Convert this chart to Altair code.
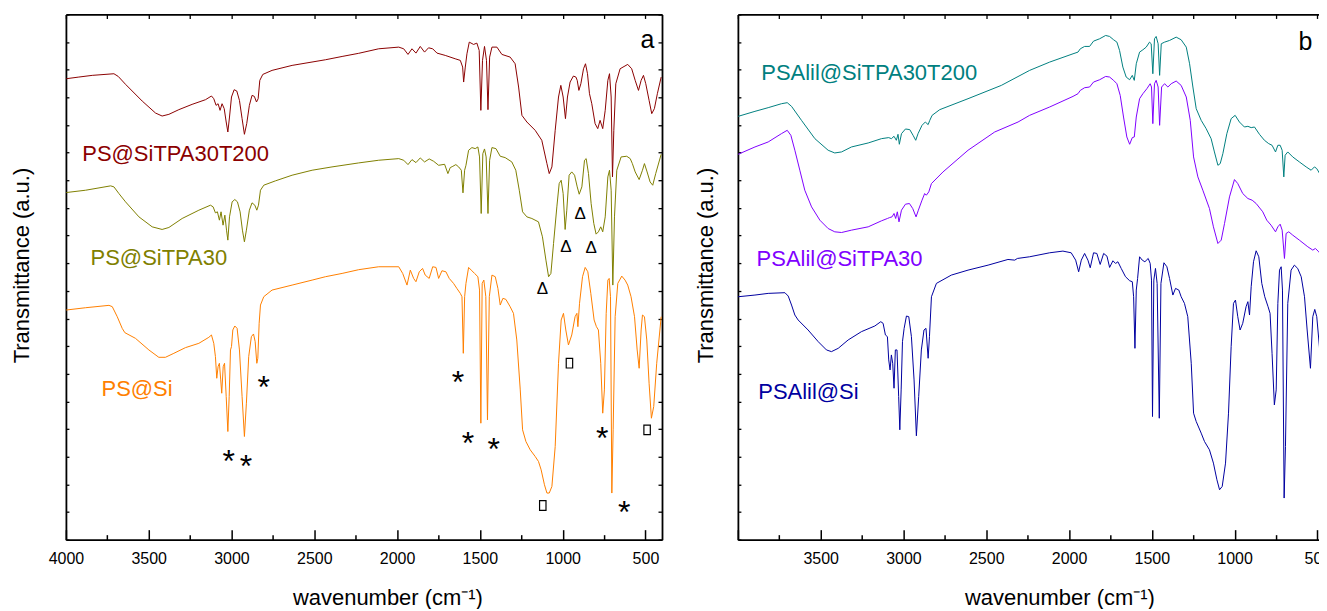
import altair as alt
import pandas as pd

FONT = "Liberation Sans"

# ---------------- data: panel a ----------------
wn_red = [3998, 3922, 3841, 3710, 3684, 3640, 3539, 3459, 3419, 3378, 3318, 3238, 3157, 3121, 3107, 3093, 3081, 3069,
          3057, 3044, 3032, 3022, 3012, 3000, 2984, 2968, 2952, 2936, 2922, 2908, 2892, 2876, 2862, 2849, 2839, 2829,
          2811, 2755, 2634, 2433, 2332, 2232, 2111, 1990, 1960, 1934, 1910, 1886, 1860, 1834, 1810, 1785, 1759, 1709,
          1649, 1618, 1604, 1598, 1588, 1578, 1564, 1538, 1518, 1504, 1494, 1484, 1472, 1460, 1451, 1441, 1427, 1397,
          1367, 1317, 1287, 1266, 1246, 1216, 1166, 1126, 1095, 1081, 1065, 1045, 1025, 1011, 997, 983, 971, 955, 935,
          920, 912, 902, 890, 874, 862, 850, 838, 824, 804, 788, 774, 758, 743, 727, 717, 707, 699, 691, 679, 653, 607,
          583, 562, 542, 526, 512, 498, 478, 462, 446, 428, 405]
tr_red = [87.76, 88.08, 88.40, 88.71, 88.20, 86.70, 83.50, 81.23, 80.66, 80.98, 81.87, 82.88, 83.77, 84.47, 83.96, 82.69,
          83.00, 81.74, 83.00, 82.06, 79.52, 77.62, 80.47, 84.28, 85.67, 85.42, 83.64, 80.16, 77.18, 79.21, 82.69, 84.59,
          84.40, 83.33, 83.96, 87.45, 88.58, 89.35, 90.30, 91.37, 92.00, 92.60, 93.46, 93.78, 93.46, 92.39, 93.46, 92.64,
          93.91, 92.83, 93.65, 93.46, 92.64, 92.20, 91.56, 91.25, 89.98, 87.13, 89.98, 92.51, 94.73, 94.29, 94.54, 93.15,
          81.74, 91.25, 93.91, 91.25, 81.87, 91.88, 93.78, 93.78, 92.39, 91.88, 90.61, 86.18, 80.79, 79.52, 77.94, 76.04,
          71.60, 69.70, 70.97, 77.94, 84.28, 86.50, 84.28, 80.16, 84.28, 87.13, 88.27, 88.08, 87.45, 85.54, 86.81, 89.66,
          90.61, 88.72, 84.91, 83.00, 79.21, 78.26, 79.84, 78.26, 81.74, 87.45, 88.72, 84.28, 69.07, 77.94, 86.81, 89.66,
          90.49, 89.66, 87.45, 85.54, 87.45, 88.40, 86.81, 83.64, 81.11, 82.06, 84.91, 88.08]

wn_olive = [3998, 3881, 3730, 3710, 3680, 3640, 3559, 3479, 3419, 3378, 3298, 3197, 3127, 3111, 3097, 3085, 3073, 3063,
            3051, 3040, 3030, 3022, 3012, 2996, 2980, 2964, 2948, 2934, 2922, 2910, 2892, 2876, 2859, 2847, 2837, 2825,
            2805, 2735, 2634, 2513, 2393, 2232, 2111, 1990, 1960, 1934, 1910, 1886, 1860, 1834, 1806, 1779, 1749, 1713,
            1693, 1679, 1663, 1645, 1628, 1612, 1602, 1592, 1584, 1568, 1548, 1528, 1512, 1502, 1492, 1482, 1472, 1462,
            1451, 1441, 1427, 1403, 1377, 1347, 1307, 1283, 1262, 1242, 1216, 1186, 1146, 1122, 1101, 1085, 1071, 1055,
            1035, 1021, 1009, 997, 985, 975, 961, 945, 928, 912, 900, 884, 868, 858, 844, 828, 812, 798, 784, 770, 758,
            743, 727, 717, 707, 697, 687, 673, 647, 613, 592, 579, 562, 538, 518, 506, 490, 472, 456, 438, 405]
tr_olive = [66.09, 66.53, 67.36, 67.17, 65.90, 64.32, 61.46, 59.56, 59.06, 59.44, 61.15, 62.73, 63.68, 63.37, 62.22,
            62.42, 60.83, 62.42, 59.88, 61.78, 58.93, 57.03, 61.46, 64.32, 64.76, 64.32, 62.42, 58.93, 56.71, 58.93,
            62.73, 64.13, 63.68, 62.73, 63.68, 66.53, 67.49, 68.31, 69.39, 70.34, 70.97, 71.73, 72.24, 72.55, 72.24,
            71.41, 72.36, 71.79, 72.68, 71.92, 72.49, 72.04, 71.28, 71.47, 69.70, 70.84, 71.09, 71.41, 70.97, 70.34,
            66.03, 70.34, 71.28, 74.14, 74.65, 74.45, 74.77, 72.87, 62.10, 73.50, 74.39, 72.87, 62.10, 72.24, 74.65,
            74.45, 73.00, 72.74, 71.92, 70.34, 66.53, 62.42, 61.46, 61.15, 60.51, 57.66, 53.22, 50.06, 50.69, 56.39,
            63.36, 67.80, 68.43, 65.90, 59.06, 62.73, 69.39, 70.02, 69.39, 67.17, 65.77, 67.17, 72.24, 72.55, 69.70,
            64.00, 60.20, 58.17, 58.61, 59.56, 58.61, 61.46, 69.07, 70.34, 66.53, 48.47, 61.46, 70.34, 72.87, 73.00,
            72.55, 71.60, 70.02, 68.56, 70.34, 71.60, 70.02, 68.11, 67.48, 69.70, 73.38]

wn_orange = [3998, 3881, 3740, 3720, 3690, 3660, 3644, 3580, 3499, 3439, 3399, 3348, 3278, 3197, 3137, 3121, 3107, 3097,
             3089, 3081, 3073, 3065, 3059, 3050, 3042, 3032, 3022, 3014, 3006, 3000, 2992, 2980, 2966, 2952, 2936, 2922,
             2910, 2896, 2880, 2867, 2857, 2847, 2841, 2833, 2825, 2805, 2755, 2634, 2513, 2433, 2332, 2232, 2111, 1990,
             1966, 1940, 1920, 1900, 1886, 1866, 1846, 1830, 1806, 1785, 1765, 1749, 1729, 1705, 1685, 1659, 1639, 1618,
             1608, 1600, 1592, 1584, 1568, 1552, 1532, 1512, 1502, 1494, 1486, 1476, 1464, 1454, 1443, 1427, 1407, 1391,
             1377, 1361, 1343, 1317, 1297, 1277, 1256, 1242, 1222, 1196, 1166, 1146, 1130, 1110, 1095, 1081, 1065, 1045,
             1025, 1009, 995, 981, 965, 945, 925, 914, 908, 898, 880, 864, 848, 830, 810, 796, 784, 770, 758, 748, 737,
             727, 719, 711, 703, 695, 683, 667, 643, 623, 607, 587, 566, 550, 538, 526, 518, 506, 492, 478, 464, 450,
             432, 405]
tr_orange = [43.72, 44.16, 44.61, 44.36, 42.45, 40.23, 39.41, 38.33, 36.12, 34.72, 34.72, 35.48, 36.56, 37.38, 38.52,
             38.97, 37.38, 34.85, 30.73, 32.94, 33.58, 30.41, 27.88, 32.94, 33.58, 27.25, 20.59, 27.25, 36.12, 36.75,
             39.92, 40.68, 40.23, 36.12, 27.25, 19.64, 25.98, 34.85, 38.65, 39.16, 37.70, 33.58, 34.53, 41.19, 44.67,
             46.26, 47.52, 48.47, 49.42, 50.06, 50.69, 51.40, 51.96, 51.96, 50.69, 48.47, 51.32, 49.74, 49.11, 51.00,
             51.64, 50.37, 49.74, 51.96, 51.83, 49.74, 51.20, 51.00, 49.74, 48.79, 47.84, 46.89, 46.26, 35.48, 46.26,
             48.79, 51.83, 51.32, 50.69, 50.06, 47.52, 22.17, 48.79, 49.42, 46.26, 22.81, 46.26, 50.37, 50.06, 47.84,
             44.67, 45.94, 45.75, 44.35, 43.09, 38.02, 28.51, 20.91, 18.69, 17.11, 15.84, 14.89, 13.30, 10.45, 8.87,
             8.87, 10.13, 17.74, 33.58, 41.82, 43.09, 39.92, 37.07, 38.97, 42.45, 43.09, 40.55, 45.00, 50.06, 51.83,
             51.01, 46.89, 41.82, 40.55, 39.92, 33.58, 24.08, 28.51, 43.09, 49.42, 49.74, 46.26, 8.87, 20.91, 42.45,
             48.79, 50.18, 49.42, 48.47, 46.26, 42.45, 36.12, 32.63, 39.92, 42.77, 42.45, 38.02, 29.78, 23.12, 25.34,
             33.58, 42.45]

# ---------------- data: panel b ----------------
wn_teal = [3998, 3897, 3817, 3737, 3702, 3676, 3616, 3535, 3455, 3415, 3374, 3314, 3213, 3133, 3089, 3073, 3057, 3043,
           3033, 3025, 3012, 2988, 2962, 2942, 2926, 2912, 2888, 2868, 2851, 2841, 2827, 2781, 2610, 2409, 2238, 2117,
           1976, 1946, 1932, 1906, 1876, 1852, 1815, 1779, 1755, 1731, 1711, 1695, 1675, 1655, 1634, 1618, 1606, 1594,
           1574, 1554, 1534, 1514, 1504, 1494, 1484, 1474, 1462, 1453, 1443, 1423, 1393, 1353, 1323, 1292, 1272, 1252,
           1232, 1202, 1172, 1142, 1122, 1101, 1087, 1071, 1047, 1021, 997, 971, 941, 920, 900, 880, 850, 820, 794,
           774, 753, 739, 725, 713, 703, 695, 679, 649, 609, 568, 538, 518, 504, 484, 464, 446]
tr_teal = [80.60, 81.55, 82.25, 83.00, 83.20, 82.50, 79.84, 76.35, 74.14, 73.63, 73.82, 74.77, 75.53, 76.35, 76.55, 76.35,
           76.80, 76.04, 77.18, 75.28, 77.30, 78.19, 78.07, 76.99, 76.04, 77.30, 78.89, 79.52, 79.02, 79.84, 80.79, 81.87,
           83.96, 86.49, 89.35, 90.93, 92.51, 92.83, 93.46, 93.91, 93.91, 94.92, 95.37, 96.00, 95.81, 95.18, 94.73, 93.15,
           89.98, 88.08, 87.57, 88.40, 87.45, 90.61, 92.83, 93.27, 93.78, 94.73, 94.42, 88.71, 95.37, 95.81, 94.42, 88.40,
           94.42, 94.73, 95.05, 95.68, 95.18, 93.78, 90.61, 86.18, 82.06, 79.84, 78.26, 76.35, 73.82, 71.28, 71.60, 73.50,
           77.30, 80.16, 80.79, 79.52, 78.57, 78.70, 78.45, 78.57, 77.18, 76.04, 75.40, 75.09, 73.82, 75.09, 75.09, 74.14,
           69.07, 73.19, 73.82, 72.87, 71.92, 70.97, 70.34, 70.97, 70.65, 69.57, 68.75, 69.07]

wn_purple = [3998, 3897, 3817, 3737, 3702, 3680, 3656, 3626, 3596, 3555, 3505, 3455, 3415, 3374, 3314, 3213, 3133, 3097,
             3083, 3069, 3057, 3047, 3037, 3027, 3012, 2988, 2964, 2944, 2924, 2910, 2888, 2872, 2862, 2847, 2831, 2761,
             2610, 2449, 2308, 2238, 2117, 1976, 1946, 1932, 1906, 1876, 1852, 1815, 1779, 1755, 1731, 1711, 1691, 1671,
             1651, 1634, 1618, 1606, 1594, 1574, 1554, 1530, 1510, 1502, 1494, 1484, 1474, 1462, 1453, 1441, 1423, 1403,
             1383, 1353, 1323, 1292, 1268, 1248, 1222, 1192, 1152, 1128, 1101, 1081, 1061, 1031, 1001, 981, 951, 920,
             894, 870, 830, 806, 780, 753, 739, 725, 713, 699, 689, 673, 649, 609, 558, 528, 512, 492, 468, 446]
tr_purple = [73.38, 74.77, 75.72, 77.30, 77.94, 76.99, 74.14, 70.34, 66.53, 63.36, 60.83, 59.24, 58.61, 58.48, 58.93,
             59.56, 60.70, 61.15, 61.33, 61.46, 62.10, 61.15, 62.42, 60.51, 62.73, 63.87, 64.00, 63.04, 61.46, 62.73,
             64.63, 65.90, 65.58, 66.22, 67.80, 70.02, 74.14, 77.62, 79.52, 80.79, 82.38, 84.40, 84.91, 85.54, 86.05,
             86.18, 87.13, 87.57, 88.20, 88.08, 87.45, 86.81, 84.59, 80.47, 76.67, 75.28, 76.55, 76.67, 80.47, 83.96,
             84.91, 85.86, 86.81, 86.18, 79.21, 86.81, 87.45, 86.18, 78.89, 86.18, 86.81, 86.18, 86.81, 87.32, 86.49,
             84.28, 79.84, 72.87, 69.07, 66.53, 63.04, 59.56, 56.39, 57.03, 60.20, 65.26, 68.56, 67.80, 65.90, 64.95,
             64.63, 64.00, 62.42, 60.83, 59.88, 58.61, 59.56, 60.07, 58.93, 53.54, 58.30, 58.61, 57.98, 57.03, 55.76,
             55.13, 55.44, 54.81, 53.86, 54.17]

wn_navy = [3998, 3897, 3817, 3716, 3696, 3676, 3656, 3636, 3576, 3515, 3465, 3435, 3394, 3334, 3254, 3173, 3137, 3123,
           3109, 3097, 3089, 3081, 3073, 3065, 3057, 3049, 3039, 3029, 3022, 3014, 3006, 2996, 2982, 2968, 2952, 2936,
           2922, 2908, 2892, 2876, 2864, 2851, 2843, 2831, 2801, 2711, 2610, 2489, 2369, 2328, 2312, 2238, 2117, 2037,
           1987, 1960, 1942, 1926, 1906, 1886, 1872, 1852, 1832, 1812, 1791, 1771, 1755, 1735, 1719, 1705, 1685, 1659,
           1634, 1618, 1610, 1602, 1594, 1586, 1574, 1558, 1542, 1522, 1510, 1502, 1496, 1488, 1478, 1468, 1455, 1445,
           1427, 1409, 1393, 1373, 1357, 1337, 1323, 1303, 1283, 1262, 1248, 1232, 1202, 1182, 1152, 1128, 1107, 1091,
           1075, 1055, 1037, 1021, 1007, 995, 981, 967, 951, 931, 920, 910, 900, 886, 870, 854, 836, 818, 798, 786, 774,
           760, 749, 739, 729, 719, 711, 701, 693, 679, 659, 639, 619, 598, 578, 562, 542, 528, 516, 504, 488, 472, 458,
           446]
tr_navy = [46.25, 46.57, 46.89, 47.02, 46.38, 44.67, 42.77, 41.82, 39.92, 37.70, 36.12, 35.80, 36.43, 38.02, 39.60, 40.68,
           41.50, 41.19, 38.97, 38.65, 34.22, 32.31, 35.17, 33.58, 28.83, 36.12, 36.12, 27.25, 20.91, 28.51, 37.70, 40.23,
           42.58, 42.45, 38.65, 30.41, 19.77, 27.25, 36.12, 39.92, 40.23, 34.53, 38.65, 46.25, 48.79, 50.37, 51.32, 52.27,
           53.35, 53.22, 53.54, 53.86, 54.62, 54.94, 54.62, 53.22, 51.00, 53.22, 54.49, 53.22, 51.77, 54.62, 54.49, 52.40,
           54.49, 53.98, 51.83, 53.10, 52.59, 52.91, 51.64, 50.06, 49.30, 49.11, 46.25, 36.43, 47.52, 49.74, 53.86, 53.22,
           52.91, 53.54, 52.59, 49.42, 23.44, 49.42, 51.64, 48.79, 23.12, 48.79, 52.72, 51.96, 49.74, 46.57, 47.84, 47.52,
           46.25, 44.99, 42.45, 33.58, 24.08, 22.49, 20.28, 18.69, 17.10, 14.57, 11.40, 9.50, 10.13, 14.57, 24.08, 36.75,
           44.99, 45.62, 42.45, 39.92, 41.19, 44.35, 45.31, 42.77, 48.16, 52.91, 55.00, 53.86, 48.79, 46.25, 44.35, 43.09,
           35.48, 25.66, 28.51, 44.99, 51.32, 51.96, 47.52, 7.92, 17.74, 44.99, 51.32, 52.27, 51.64, 50.06, 46.25, 39.92,
           32.63, 42.45, 43.84, 42.45, 36.75, 28.51, 25.98, 27.86]

series_names = ["PS@SiTPA30T200", "PS@SiTPA30", "PS@Si", "PSAlil@SiTPA30T200", "PSAlil@SiTPA30", "PSAlil@Si"]
series_colors = ["#8B0000", "#808000", "#FF8000", "#008080", "#8000FF", "#0000A0"]

# curve labels
labels_a = ["PS@SiTPA30T200", "PS@SiTPA30", "PS@Si"]
labels_a_wn = [3901, 3851, 3785]
labels_a_tr = [72.05, 52.28, 27.37]
labels_b = ["PSAlil@SiTPA30T200", "PSAlil@SiTPA30", "PSAlil@Si"]
labels_b_wn = [3859, 3887, 3877]
labels_b_tr = [87.45, 52.09, 26.75]

# band markers (panel a)
tri_wn = [894, 981, 828, 1122]
tri_tr = [62.2, 55.9, 55.8, 48.0]
star_wn = [2805, 3016, 2912, 1632, 1572, 1417, 761, 628]
star_tr = [30.4, 16.3, 15.3, 31.4, 19.8, 18.5, 20.6, 6.5]
sq_wn = [959, 1120, 490]
sq_tr = [33.6, 6.5, 20.9]

panel_letters = ["a", "b"]
letter_wn = [446, 530]
letter_tr = [93.7, 93.3]

xlabels_a = [4000, 3500, 3000, 2500, 2000, 1500, 1000, 500]
xlabels_b = [3500, 3000, 2500, 2000, 1500, 1000, 500]
xticks = [4000, 3750, 3500, 3250, 3000, 2750, 2500, 2250, 2000, 1750, 1500, 1250, 1000, 750, 500]
yticks = [round(i * 100 / 19, 4) for i in range(20)]

H = 526
WA = 597
WB = 597

color_scale = alt.Scale(domain=series_names, range=series_colors)


def spec_df(pairs):
    parts = []
    for name, wn, tr in pairs:
        parts.append(pd.DataFrame({"wn": wn, "tr": tr, "series": name}))
    return pd.concat(parts, ignore_index=True)


df_a = spec_df([("PS@SiTPA30T200", wn_red, tr_red), ("PS@SiTPA30", wn_olive, tr_olive), ("PS@Si", wn_orange, tr_orange)])
df_b = spec_df([("PSAlil@SiTPA30T200", wn_teal, tr_teal), ("PSAlil@SiTPA30", wn_purple, tr_purple),
                ("PSAlil@Si", wn_navy, tr_navy)])

major_tick = {"condition": {"test": "datum.value % 500 === 0", "value": 10}, "value": 5}

XS = alt.Scale(domain=[400, 4000], reverse=True, nice=False, zero=False)
YS = alt.Scale(domain=[0, 100], nice=False, zero=False)


def xq(axis=None):
    return alt.X("wn:Q", scale=XS, axis=axis)


def yq(axis=None):
    return alt.Y("tr:Q", scale=YS, axis=axis)


def panel(df, width, xlabels, lab, lab_wn, lab_tr, letter, l_wn, l_tr, right_frame, title_pad, markers):
    ax_main = alt.Axis(orient="bottom", values=xlabels, format="d", ticks=False, domain=True, domainColor="black",
                       domainWidth=1.8, labelFont=FONT, labelFontSize=16, labelColor="black", labelPadding=11,
                       labelFlush=False, grid=False, title="wavenumber (cm⁻¹)", titleFont=FONT, titleFontSize=22,
                       titleFontWeight="normal", titleColor="black", titlePadding=21, titleX=322)
    ay_main = alt.Axis(orient="left", ticks=False, labels=False, domain=True, domainColor="black", domainWidth=1.8,
                       grid=False, title="Transmittance (a.u.)", titleFont=FONT, titleFontSize=22,
                       titleFontWeight="normal", titleColor="black", titlePadding=title_pad, titleY=251)
    ax_bot = alt.Axis(orient="top", offset=-H, values=xticks, labels=False, domain=False, ticks=True,
                      tickColor="black", tickWidth=1.5, tickSize=major_tick, grid=False, title=None)
    ay_left = alt.Axis(orient="right", offset=-width, values=yticks, labels=False, domain=False, ticks=True,
                       tickColor="black", tickWidth=1.3, tickSize=3, grid=False, title=None)
    ax_top = alt.Axis(orient="bottom", offset=-H, values=xticks, labels=False, domain=True, domainColor="black",
                      domainWidth=1.8, ticks=True, tickColor="black", tickWidth=1.3, tickSize=4, grid=False,
                      title=None)
    ay_right = alt.Axis(orient="left", offset=-width, values=yticks, labels=False, domain=right_frame,
                        domainColor="black", domainWidth=1.8, ticks=right_frame, tickColor="black", tickWidth=1.3,
                        tickSize=4, grid=False, title=None)

    base = alt.Chart(df).properties(width=width, height=H)
    lines = base.mark_line(strokeWidth=1, clip=True).encode(
        x=xq(ax_main), y=yq(ay_main),
        color=alt.Color("series:N", scale=color_scale, legend=None),
        detail="series:N",
    )
    ghost1 = base.mark_line(strokeOpacity=0, clip=True).encode(x=xq(ax_bot), y=yq(ay_left), detail="series:N")
    ghost2 = base.mark_line(strokeOpacity=0, clip=True).encode(x=xq(ax_top), y=yq(ay_right), detail="series:N")
    lab_df = pd.DataFrame({"wn": lab_wn, "tr": lab_tr, "series": lab, "label": lab})
    labels = alt.Chart(lab_df).mark_text(align="left", baseline="alphabetic", font=FONT, fontSize=22).encode(
        x=xq(), y=yq(),
        color=alt.Color("series:N", scale=color_scale, legend=None),
        text="label:N",
    )
    let_df = pd.DataFrame({"wn": [l_wn], "tr": [l_tr], "label": [letter]})
    letter_layer = alt.Chart(let_df).mark_text(align="right", baseline="alphabetic", font=FONT, fontSize=25,
                                               color="black").encode(x=xq(), y=yq(), text="label:N")
    layers = [lines, ghost1, ghost2, labels, letter_layer] + markers()
    return alt.layer(*layers).resolve_axis(x="independent", y="independent")


def markers_a():
    tri = alt.Chart(pd.DataFrame({"wn": tri_wn, "tr": tri_tr, "s": ["Δ"] * len(tri_wn)})).mark_text(
        font=FONT, fontSize=17, color="black", baseline="alphabetic", dy=6).encode(x=xq(), y=yq(), text="s:N")
    star = alt.Chart(pd.DataFrame({"wn": star_wn, "tr": star_tr, "s": ["*"] * len(star_wn)})).mark_text(
        font=FONT, fontSize=32, color="black", baseline="alphabetic", dy=18).encode(x=xq(), y=yq(), text="s:N")
    sq = alt.Chart(pd.DataFrame({"wn": sq_wn, "tr": sq_tr})).mark_point(
        shape="M-0.6,-0.9L0.6,-0.9L0.6,0.9L-0.6,0.9Z", size=115, filled=False, stroke="black",
        strokeWidth=1.2, opacity=1).encode(x=xq(), y=yq())
    return [tri, star, sq]


def markers_b():
    return []


pa = panel(df_a, WA, xlabels_a, labels_a, labels_a_wn, labels_a_tr, "a", letter_wn[0], letter_tr[0], True, 32,
           markers_a)
pb = panel(df_b, WB, xlabels_b, labels_b, labels_b_wn, labels_b_tr, "b", letter_wn[1], letter_tr[1], False, 20,
           markers_b)

chart = alt.hconcat(pa, pb, spacing=32).properties(
    padding={"left": 3, "top": 5, "right": -15, "bottom": 0},
    background="white",
).configure_view(strokeWidth=0)

chart.save("out.html", embed_options={"renderer": "svg", "actions": False})
